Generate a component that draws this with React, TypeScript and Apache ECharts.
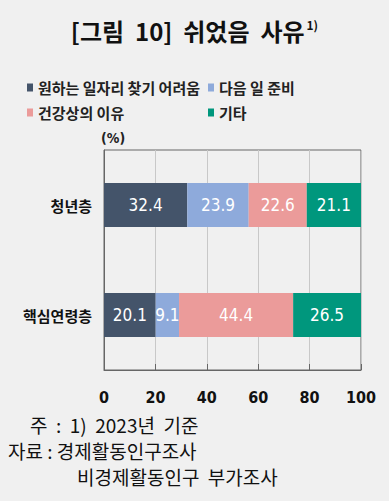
import React, { useEffect, useRef } from "react";
import * as echarts from "echarts";

const categories = ["청년층", "핵심연령층"];
const seriesNames = ["원하는 일자리 찾기 어려움", "다음 일 준비", "건강상의 이유", "기타"];
const s1 = [32.4, 20.1];
const s2 = [23.9, 9.1];
const s3 = [22.6, 44.4];
const s4 = [21.1, 26.5];
const colors = ["#44546a", "#8eaadb", "#eb9b9a", "#00977d"];
const xTicks = [0, 20, 40, 60, 80, 100];

const KR = "'Noto Sans CJK KR', 'Noto Sans', sans-serif";
const NARROW = "'DejaVu Sans Condensed', 'Roboto', sans-serif";

export default function App() {
  const ref = useRef<HTMLDivElement>(null);
  useEffect(() => {
    document.body.style.margin = "0";
    const chart = echarts.init(ref.current!, undefined, { renderer: "svg" });
    const data = [s1, s2, s3, s4];
    const legendText = { fontFamily: KR, fontSize: 15, fontWeight: "bold", color: "#222" };
    const note = (left: number, top: number, text: string) => ({
      type: "text",
      left,
      top,
      style: { text, fontFamily: KR, fontSize: 19, fill: "#111" },
    });
    chart.setOption({
      animation: false,
      backgroundColor: "#f0f0f0",
      title: {
        text: "[그림  10]  쉬었음  사유{sup|1)}",
        left: "center",
        top: 13,
        textStyle: {
          fontFamily: KR,
          fontSize: 24,
          fontWeight: "bold",
          color: "#111",
          rich: {
            sup: { fontSize: 12, fontWeight: "bold", verticalAlign: "top", padding: [0, 0, 12, 2], fontFamily: KR, color: "#111" },
          },
        },
      },
      legend: [
        {
          data: [seriesNames[0], seriesNames[2]],
          orient: "vertical",
          left: 22,
          top: 75,
          itemWidth: 6,
          itemHeight: 8,
          itemGap: 10,
          icon: "rect",
          textStyle: legendText,
        },
        {
          data: [seriesNames[1], seriesNames[3]],
          orient: "vertical",
          left: 203,
          top: 75,
          itemWidth: 6,
          itemHeight: 8,
          itemGap: 10,
          icon: "rect",
          textStyle: legendText,
        },
      ],
      grid: {
        left: 104,
        right: 28,
        top: 150,
        bottom: 131,
        show: true,
        borderColor: "#666",
        borderWidth: 1,
        containLabel: false,
      },
      xAxis: {
        type: "value",
        min: xTicks[0],
        max: xTicks[xTicks.length - 1],
        interval: 20,
        axisLine: { show: true, lineStyle: { color: "#666" } },
        axisTick: { show: true, inside: true, length: 6, lineStyle: { color: "#666" } },
        splitLine: { show: true, lineStyle: { color: "#c8c8c8" } },
        axisLabel: { margin: 19, fontFamily: NARROW, fontSize: 16, fontWeight: "bold", color: "#111" },
      },
      yAxis: {
        type: "category",
        data: categories,
        inverse: true,
        axisLine: { show: true, lineStyle: { color: "#666" } },
        axisTick: { show: false },
        axisLabel: { margin: 12, fontFamily: KR, fontSize: 15, fontWeight: "bold", color: "#111" },
      },
      graphic: [
        { type: "text", left: 101, top: 131, style: { text: "(%)", fontFamily: NARROW, fontSize: 14, fontWeight: "bold", fill: "#222" } },
        note(30, 415, "주  :  1)  2023년  기준"),
        note(8, 441, "자료 : 경제활동인구조사"),
        note(77, 467, "비경제활동인구  부가조사"),
      ],
      series: data.map((d, i) => ({
        type: "bar",
        name: seriesNames[i],
        stack: "total",
        data: d,
        barWidth: 44,
        itemStyle: { color: colors[i] },
        label: {
          show: true,
          position: "inside",
          color: "#fff",
          fontFamily: NARROW,
          fontSize: 17,
          formatter: (p: any) => p.value.toFixed(1),
        },
      })),
    });
    return () => chart.dispose();
  }, []);
  return <div ref={ref} style={{ position: "fixed", left: 0, top: 0, width: 389, height: 501 }} />;
}
